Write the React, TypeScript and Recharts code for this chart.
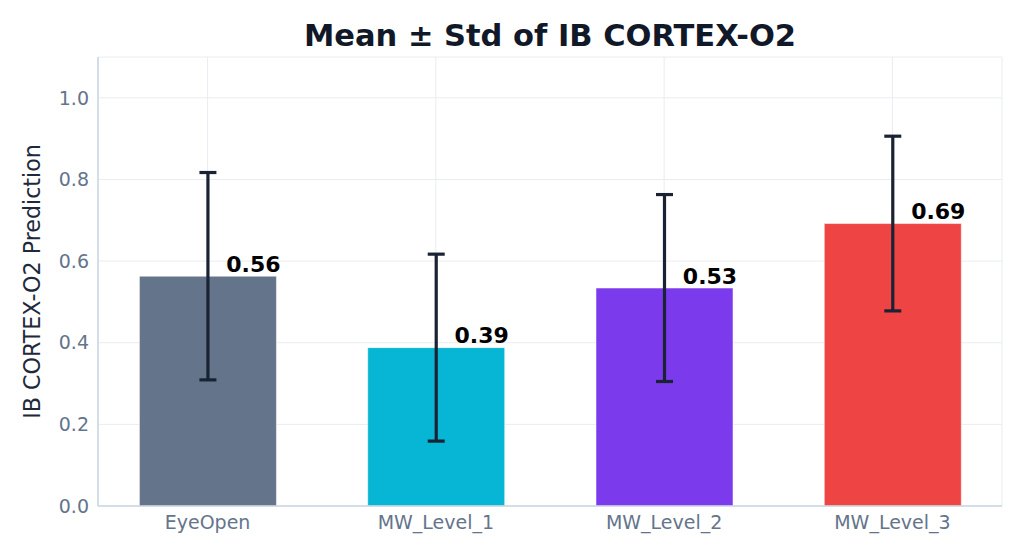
import React from "react";
import { BarChart, Bar, XAxis, YAxis, CartesianGrid, ErrorBar, Cell, LabelList } from "recharts";

const categories = ["EyeOpen", "MW_Level_1", "MW_Level_2", "MW_Level_3"];
const means = [0.563, 0.388, 0.534, 0.692];
const stds = [0.254, 0.229, 0.229, 0.214];
const colors = ["#64748b", "#06b6d4", "#7c3aed", "#ef4444"];
const yTicks = [0, 0.2, 0.4, 0.6, 0.8, 1.0];

const data = categories.map((name, i) => ({ x: i, name, mean: means[i], std: stds[i] }));

const FONT = "'DejaVu Sans', sans-serif";

const ValueLabel = (props: any) => {
  const { x, y, width, value } = props;
  return (
    <text
      x={x + width / 2 + 45.5}
      y={y - 4.5}
      textAnchor="middle"
      fontFamily={FONT}
      fontWeight="bold"
      fontSize={22}
      fill="#000000"
    >
      {Number(value).toFixed(2)}
    </text>
  );
};

const YLabel = (props: any) => {
  const vb = props.viewBox || { x: 38, y: 57, width: 60, height: 449 };
  const cx = vb.x - 6;
  const cy = vb.y + vb.height / 2;
  return (
    <text
      x={cx}
      y={cy}
      transform={`rotate(-90, ${cx}, ${cy})`}
      textAnchor="middle"
      dominantBaseline="central"
      fontFamily={FONT}
      fontSize={22.2}
      fill="#1e293b"
    >
      IB CORTEX-O2 Prediction
    </text>
  );
};

export default function App() {
  return (
    <div style={{ position: "absolute", left: 0, top: 0, width: 1024, height: 555, background: "#fff" }}>
      <div
        style={{
          position: "absolute",
          left: 0,
          width: 1100,
          top: 18,
          textAlign: "center",
          fontFamily: FONT,
          fontWeight: "bold",
          fontSize: 30.5,
          color: "#111827",
          lineHeight: "36px",
        }}
      >
        Mean ± Std of IB CORTEX-O2
      </div>
      <BarChart
        width={1024}
        height={555}
        data={data}
        margin={{ top: 57, right: 22, bottom: 19, left: 38 }}
      >
        <CartesianGrid stroke="#e9ecf0" strokeWidth={1} vertical={true} horizontal={true} />
        <XAxis
          type="number"
          dataKey="x"
          domain={[-0.48, 3.48]}
          ticks={[0, 1, 2, 3]}
          allowDataOverflow
          tickFormatter={(v: number) => categories[v]}
          axisLine={{ stroke: "#cbd5e1", strokeWidth: 1.5 }}
          tickLine={false}
          tickSize={0}
          tickMargin={10}
          height={30}
          tick={{ fontFamily: FONT, fontSize: 19, fill: "#64748b" }}
        />
        <YAxis
          type="number"
          domain={[0, 1.1]}
          ticks={yTicks}
          allowDataOverflow
          tickFormatter={(v: number) => v.toFixed(1)}
          axisLine={{ stroke: "#cbd5e1", strokeWidth: 1.5 }}
          tickLine={false}
          tickSize={0}
          tickMargin={9}
          width={60}
          tick={{ fontFamily: FONT, fontSize: 19, fill: "#64748b" }}
          label={{ content: <YLabel /> }}
        />
        <Bar dataKey="mean" barSize={137} isAnimationActive={false}>
          {data.map((d, i) => (
            <Cell key={d.name} fill={colors[i]} stroke="#ffffff" strokeOpacity={0.5} strokeWidth={1} />
          ))}
          <ErrorBar dataKey="std" width={8.5} stroke="#1a2233" strokeWidth={3.2} direction="y" />
          <LabelList dataKey="mean" content={<ValueLabel />} />
        </Bar>
      </BarChart>
    </div>
  );
}
